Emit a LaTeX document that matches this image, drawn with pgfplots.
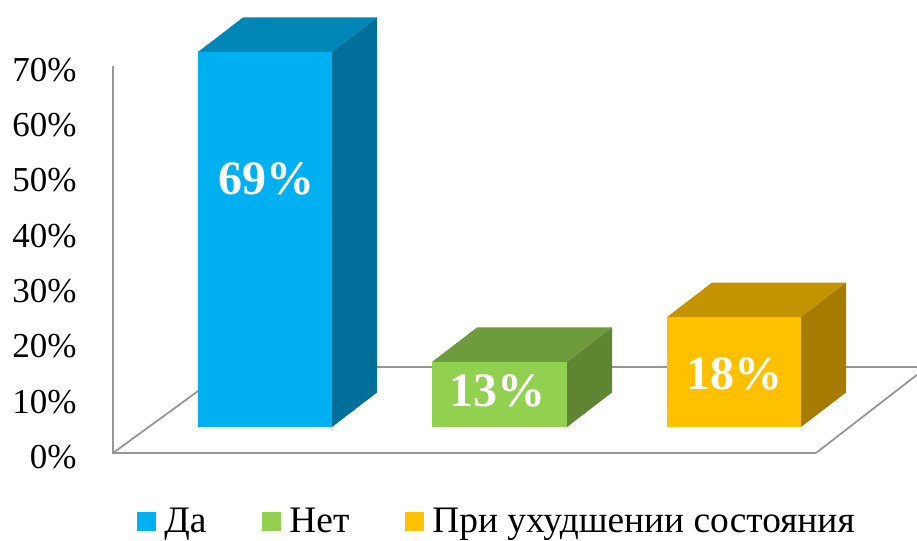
\documentclass[border=0pt]{standalone}
\usepackage{pgfplots}
\pgfplotsset{compat=1.18}
\usepackage{fontspec}
\setmainfont{Liberation Serif}
\definecolor{cBlue}{HTML}{00B0F0}
\definecolor{cBlueTop}{HTML}{0087B8}
\definecolor{cBlueSide}{HTML}{006F99}
\definecolor{cGreen}{HTML}{92D050}
\definecolor{cGreenTop}{HTML}{6E9C3C}
\definecolor{cGreenSide}{HTML}{5E8632}
\definecolor{cOrange}{HTML}{FFC000}
\definecolor{cOrangeTop}{HTML}{C49300}
\definecolor{cOrangeSide}{HTML}{A67C00}
\definecolor{cGrid}{HTML}{969696}
\begin{document}
\begin{tikzpicture}
\begin{axis}[
  scale only axis,
  width=402pt, height=235pt,
  xmin=113, xmax=917,
  ymin=-2.71, ymax=82.28,
  clip=false,
  axis line style={draw=none},
  major tick length=0pt,
  xtick=\empty,
  ytick={0,10,20,30,40,50,60,70},
  yticklabels={0\%,10\%,20\%,30\%,40\%,50\%,60\%,70\%},
  yticklabel style={anchor=east, inner sep=0pt, xshift=-18pt, yshift=-1pt,
    font=\fontsize{17.5}{21}\selectfont},
  legend columns=3,
  legend image code/.code={\fill[#1, draw=none] (0pt,-4.75pt) rectangle (9.5pt,4.75pt);},
  legend style={draw=none, fill=none, at={(0.4764,-0.1100)}, anchor=center,
    font=\fontsize{18.7}{22}\selectfont,
    nodes={inner sep=0pt},
    /tikz/every odd column/.append style={column sep=4pt},
    /tikz/every even column/.append style={column sep=28pt}},
]
% floor and axis lines
\addplot[forget plot, cGrid, line width=0.9pt] coordinates {(113,70.34) (113,0.36) (816,0.36)};
\addplot[forget plot, cGrid, line width=0.9pt] coordinates {(113,0.36) (231,15.91) (917,15.91)};
\addplot[forget plot, cGrid, line width=0.9pt] coordinates {(816,0.36) (917,14.51)};
% bar: Da
\addplot[forget plot, fill=cBlue, draw=none] coordinates {(198,5.06) (332,5.06) (332,72.88) (198,72.88)} -- cycle;
\addplot[forget plot, fill=cBlueTop, draw=none] coordinates {(198,72.88) (243,79.12) (377,79.12) (332,72.88)} -- cycle;
\addplot[forget plot, fill=cBlueSide, draw=none] coordinates {(332,5.06) (377,11.30) (377,79.12) (332,72.88)} -- cycle;
% bar: Net
\addplot[forget plot, fill=cGreen, draw=none] coordinates {(432,5.06) (567,5.06) (567,16.82) (432,16.82)} -- cycle;
\addplot[forget plot, fill=cGreenTop, draw=none] coordinates {(432,16.82) (477,23.06) (612,23.06) (567,16.82)} -- cycle;
\addplot[forget plot, fill=cGreenSide, draw=none] coordinates {(567,5.06) (612,11.30) (612,23.06) (567,16.82)} -- cycle;
% bar: Pri ukhudshenii
\addplot[forget plot, fill=cOrange, draw=none] coordinates {(667,5.06) (801,5.06) (801,24.95) (667,24.95)} -- cycle;
\addplot[forget plot, fill=cOrangeTop, draw=none] coordinates {(667,24.95) (712,31.19) (846,31.19) (801,24.95)} -- cycle;
\addplot[forget plot, fill=cOrangeSide, draw=none] coordinates {(801,5.06) (846,11.30) (846,31.19) (801,24.95)} -- cycle;
% data labels
\addplot[forget plot, draw=none, mark=none, nodes near coords, point meta=explicit symbolic,
  nodes near coords style={anchor=center, inner sep=0pt, text=white,
    font=\fontsize{24}{28}\selectfont\bfseries}]
  coordinates {(266,49.9)[69\%] (497,11.57)[13\%] (734,14.65)[18\%]};
\addlegendimage{fill=cBlue}\addlegendentry{Да}
\addlegendimage{fill=cGreen}\addlegendentry{Нет}
\addlegendimage{fill=cOrange}\addlegendentry{При ухудшении состояния}
\coordinate (BBsw) at (axis cs:0,-15.37);
\coordinate (BBne) at (axis cs:917,82.28);
\end{axis}
\pgfresetboundingbox
\path[use as bounding box] (BBsw) rectangle (BBne);
\end{tikzpicture}
\end{document}
